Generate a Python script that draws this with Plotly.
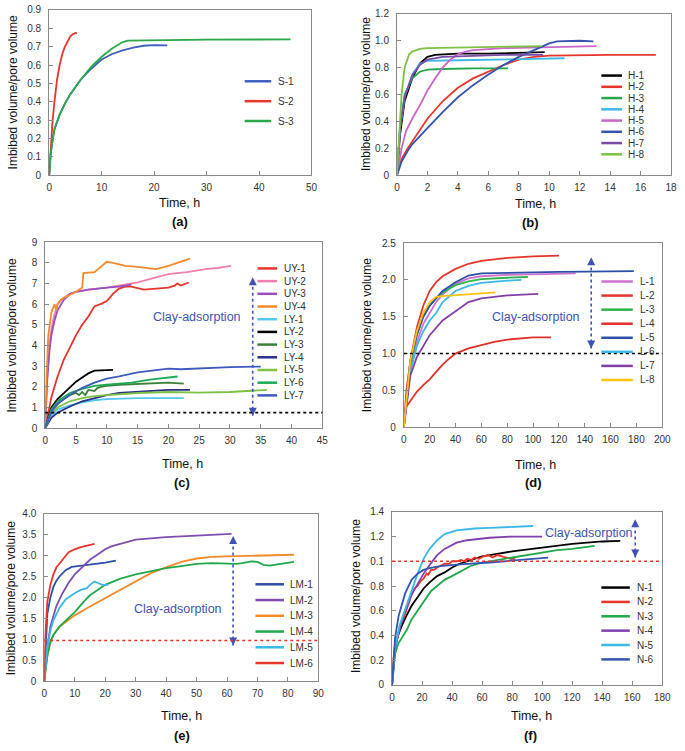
import plotly.graph_objects as go

W, H = 685, 751

# ---------------- (a) ----------------
a_names = ["S-1", "S-2", "S-3"]
a_colors = ["#3F5FBF", "#E8352B", "#2BA84A"]
S1_t = [0, 0.3, 0.7, 1, 2, 3, 4, 5, 6, 8, 10, 12, 14, 16, 18, 20, 22.5]
S1_v = [0, 0.12, 0.2, 0.25, 0.33, 0.39, 0.44, 0.48, 0.52, 0.58, 0.63, 0.66, 0.68, 0.695, 0.705, 0.708, 0.707]
S2_t = [0, 0.3, 0.6, 1, 1.5, 2, 2.5, 3, 3.5, 4, 4.5, 5, 5.3]
S2_v = [0, 0.15, 0.28, 0.4, 0.52, 0.6, 0.66, 0.7, 0.73, 0.755, 0.768, 0.775, 0.772]
S3_t = [0, 0.3, 0.7, 1, 2, 3, 4, 5, 6, 8, 10, 12, 14, 15, 20, 30, 46]
S3_v = [0, 0.12, 0.2, 0.25, 0.33, 0.39, 0.44, 0.48, 0.52, 0.59, 0.645, 0.69, 0.725, 0.733, 0.735, 0.738, 0.74]
a_xticks = [0, 10, 20, 30, 40, 50]
a_yticks = [0, 0.1, 0.2, 0.3, 0.4, 0.5, 0.6, 0.7, 0.8, 0.9]
a_ylabels = ["0", "0.1", "0.2", "0.3", "0.4", "0.5", "0.6", "0.7", "0.8", "0.9"]

# ---------------- (b) ----------------
b_names = ["H-1", "H-2", "H-3", "H-4", "H-5", "H-6", "H-7", "H-8"]
b_colors = ["#000000", "#E8352B", "#22A84A", "#3EB8E8", "#C966C8", "#3553B0", "#7A4CA8", "#7DC243"]
H1_t = [0, 0.2, 0.5, 1, 1.5, 2, 2.5, 3, 4, 6, 8, 9.7]
H1_v = [0, 0.3, 0.55, 0.72, 0.83, 0.88, 0.895, 0.9, 0.905, 0.905, 0.91, 0.915]
H2_t = [0, 0.3, 0.7, 1, 2, 3, 4, 5, 6, 7, 8, 9, 10, 12, 14, 17]
H2_v = [0, 0.12, 0.2, 0.25, 0.42, 0.55, 0.65, 0.72, 0.77, 0.82, 0.86, 0.88, 0.89, 0.895, 0.895, 0.895]
H3_t = [0, 0.2, 0.5, 1, 1.5, 2, 3, 5, 7.3]
H3_v = [0, 0.35, 0.6, 0.72, 0.77, 0.785, 0.79, 0.795, 0.795]
H4_t = [0, 0.2, 0.5, 1, 1.5, 2, 4, 6, 8, 11]
H4_v = [0, 0.35, 0.58, 0.75, 0.83, 0.85, 0.855, 0.86, 0.865, 0.87]
H5_t = [0, 0.3, 0.6, 1, 1.5, 2, 2.5, 3, 3.5, 4, 4.5, 5, 7, 9, 11, 13.1]
H5_v = [0, 0.2, 0.33, 0.42, 0.52, 0.63, 0.72, 0.8, 0.86, 0.9, 0.92, 0.93, 0.945, 0.95, 0.955, 0.96]
H6_t = [0, 0.3, 0.7, 1, 2, 3, 4, 5, 6, 7, 8, 9, 10, 10.5, 12, 12.9]
H6_v = [0, 0.1, 0.18, 0.23, 0.35, 0.47, 0.58, 0.67, 0.75, 0.82, 0.88, 0.93, 0.98, 0.995, 1.0, 0.995]
H7_t = [0, 0.2, 0.5, 1, 1.5, 2, 3, 5, 7, 9.6]
H7_v = [0, 0.35, 0.58, 0.74, 0.82, 0.86, 0.88, 0.89, 0.895, 0.895]
H8_t = [0, 0.15, 0.3, 0.5, 0.8, 1, 1.5, 2, 4, 6, 9.5]
H8_v = [0, 0.35, 0.6, 0.8, 0.9, 0.92, 0.94, 0.945, 0.95, 0.955, 0.96]
b_xticks = [0, 2, 4, 6, 8, 10, 12, 14, 16, 18]
b_yticks = [0, 0.2, 0.4, 0.6, 0.8, 1.0, 1.2]
b_ylabels = ["0", "0.2", "0.4", "0.6", "0.8", "1.0", "1.2"]

# ---------------- (c) ----------------
c_names = ["UY-1", "UY-2", "UY-3", "UY-4", "LY-1", "LY-2", "LY-3", "LY-4", "LY-5", "LY-6", "LY-7"]
c_colors = ["#E8352B", "#F080B0", "#9B4FBF", "#F58A2A", "#55C8EE", "#000000", "#3E7F3A",
            "#2A2F8A", "#7DC243", "#1DAA55", "#3F5BC0"]
UY1_t = [0, 0.5, 1, 2, 3, 4, 5, 6, 7, 8, 9, 10, 11, 12, 13, 14, 16, 18, 20, 21, 21.5, 22, 23.3]
UY1_v = [0, 0.8, 1.5, 2.5, 3.3, 3.9, 4.5, 5.0, 5.4, 5.9, 6.0, 6.15, 6.5, 6.75, 6.85, 6.85, 6.7, 6.75, 6.8, 6.9, 7.0, 6.9, 7.05]
UY2_t = [0, 0.3, 0.7, 1, 1.5, 2, 3, 4, 5, 7, 10, 13, 15, 18, 20, 23, 26, 28, 30.2]
UY2_v = [0, 2.5, 4.0, 4.8, 5.5, 6.0, 6.3, 6.5, 6.6, 6.7, 6.8, 6.95, 7.05, 7.3, 7.45, 7.55, 7.7, 7.75, 7.85]
UY3_t = [0, 0.3, 0.7, 1, 1.5, 2, 3, 4, 5, 7, 10, 12, 14]
UY3_v = [0, 2.2, 3.8, 4.5, 5.2, 5.7, 6.2, 6.5, 6.6, 6.7, 6.8, 6.85, 6.95]
UY4_t = [0, 0.2, 0.5, 1, 1.5, 1.8, 2, 2.5, 3, 4, 5, 6, 6.2, 8, 9, 10, 11, 13, 15, 18, 20, 23.5]
UY4_v = [0, 2.5, 4.5, 5.6, 6.0, 5.7, 6.0, 6.2, 6.3, 6.45, 6.6, 6.8, 7.5, 7.55, 7.8, 8.05, 8.0, 7.85, 7.8, 7.7, 7.85, 8.2]
LY1_t = [0, 1, 2, 4, 6, 8, 10, 15, 20, 22.5]
LY1_v = [0, 0.6, 0.9, 1.1, 1.25, 1.35, 1.4, 1.45, 1.45, 1.45]
LY2_t = [0, 1, 2, 3, 4, 5, 6, 7, 8, 9, 11]
LY2_v = [0, 1.0, 1.4, 1.7, 2.0, 2.25, 2.45, 2.65, 2.78, 2.8, 2.82]
LY3_t = [0, 1, 2, 3, 4, 5, 5.5, 6, 6.5, 7, 8, 8.5, 9, 10, 12, 15, 18, 20, 22.5]
LY3_v = [0, 0.8, 1.15, 1.4, 1.6, 1.7, 1.6, 1.75, 1.6, 1.85, 1.8, 1.95, 2.0, 2.05, 2.1, 2.15, 2.2, 2.2, 2.15]
LY4_t = [0, 1, 2, 4, 6, 8, 10, 12, 15, 18, 20, 23.5]
LY4_v = [0, 0.5, 0.75, 1.05, 1.3, 1.45, 1.6, 1.7, 1.75, 1.8, 1.85, 1.85]
LY5_t = [0, 1, 2, 4, 6, 8, 10, 15, 20, 25, 30, 36]
LY5_v = [0, 0.7, 1.0, 1.3, 1.45, 1.55, 1.6, 1.7, 1.75, 1.72, 1.75, 1.85]
LY6_t = [0, 1, 2, 4, 6, 8, 10, 14, 17, 20, 21.5]
LY6_v = [0, 0.9, 1.3, 1.7, 1.9, 2.05, 2.1, 2.2, 2.35, 2.45, 2.5]
LY7_t = [0, 1, 2, 4, 6, 8, 10, 12, 15, 18, 20, 22, 25, 30, 35]
LY7_v = [0, 0.8, 1.2, 1.6, 1.95, 2.2, 2.4, 2.5, 2.7, 2.82, 2.88, 2.85, 2.9, 2.95, 2.98]
c_xticks = [0, 5, 10, 15, 20, 25, 30, 35, 40, 45]
c_yticks = [0, 1, 2, 3, 4, 5, 6, 7, 8, 9]
c_ylabels = ["0", "1", "2", "3", "4", "5", "6", "7", "8", "9"]

# ---------------- (d) ----------------
d_names = ["L-1", "L-2", "L-3", "L-4", "L-5", "L-6", "L-7", "L-8"]
d_colors = ["#D070D0", "#E8352B", "#2DB34A", "#E0302A", "#2E4FA8", "#3BB8E8", "#8040A8", "#FFC20E"]
L1_t = [0, 5, 10, 15, 20, 25, 30, 40, 50, 60, 80, 100, 133]
L1_v = [0, 0.8, 1.15, 1.4, 1.55, 1.7, 1.8, 1.95, 2.02, 2.05, 2.07, 2.08, 2.09]
L2_t = [0, 2, 5, 10, 15, 20, 25, 30, 40, 50, 60, 80, 100, 120]
L2_v = [0, 0.5, 0.9, 1.35, 1.65, 1.85, 1.97, 2.05, 2.15, 2.22, 2.26, 2.3, 2.32, 2.33]
L3_t = [0, 5, 10, 15, 20, 25, 30, 40, 50, 60, 80, 96]
L3_v = [0, 0.85, 1.25, 1.5, 1.65, 1.75, 1.83, 1.93, 1.98, 2.01, 2.03, 2.04]
L4_t = [0, 1, 2, 5, 10, 15, 20, 25, 30, 35, 40, 50, 60, 70, 80, 90, 100, 114]
L4_v = [0, 0.2, 0.28, 0.35, 0.48, 0.57, 0.65, 0.75, 0.85, 0.93, 1.0, 1.07, 1.12, 1.16, 1.19, 1.21, 1.22, 1.22]
L5_t = [0, 5, 10, 15, 20, 25, 30, 40, 50, 60, 80, 120, 178]
L5_v = [0, 0.9, 1.25, 1.5, 1.65, 1.75, 1.85, 1.97, 2.06, 2.09, 2.1, 2.11, 2.12]
L6_t = [0, 5, 10, 15, 20, 25, 30, 40, 50, 60, 80, 91]
L6_v = [0, 0.75, 1.1, 1.3, 1.45, 1.55, 1.7, 1.85, 1.92, 1.96, 1.99, 2.0]
L7_t = [0, 5, 10, 15, 20, 30, 40, 50, 60, 80, 104]
L7_v = [0, 0.7, 0.95, 1.1, 1.25, 1.45, 1.58, 1.7, 1.75, 1.79, 1.81]
L8_t = [0, 3, 5, 10, 15, 20, 25, 30, 40, 50, 60, 71]
L8_v = [0, 0.5, 0.9, 1.3, 1.55, 1.7, 1.77, 1.78, 1.79, 1.8, 1.81, 1.83]
d_xticks = [0, 20, 40, 60, 80, 100, 120, 140, 160, 180, 200]
d_yticks = [0, 0.5, 1.0, 1.5, 2.0, 2.5]
d_ylabels = ["0", "0.5", "1.0", "1.5", "2.0", "2.5"]

# ---------------- (e) ----------------
e_names = ["LM-1", "LM-2", "LM-3", "LM-4", "LM-5", "LM-6"]
e_colors = ["#2E4FA8", "#7E4FB0", "#F58A2A", "#22A84A", "#3BB8E8", "#E8352B"]
LM1_t = [0, 0.5, 1, 2, 3, 4, 5, 7, 9, 11, 15, 20, 23.5]
LM1_v = [0, 1.0, 1.6, 2.0, 2.25, 2.4, 2.5, 2.65, 2.73, 2.75, 2.78, 2.83, 2.88]
LM2_t = [0, 1, 2, 4, 6, 8, 10, 12, 15, 18, 20, 22, 25, 30, 40, 50, 61.5]
LM2_v = [0, 0.8, 1.3, 1.8, 2.1, 2.35, 2.55, 2.7, 2.9, 3.05, 3.15, 3.22, 3.28, 3.38, 3.44, 3.48, 3.52]
LM3_t = [0, 1, 2, 3, 5, 8, 10, 15, 20, 25, 30, 35, 40, 45, 50, 55, 60, 70, 82]
LM3_v = [0, 0.6, 0.9, 1.1, 1.3, 1.47, 1.57, 1.78, 1.98, 2.18, 2.4, 2.58, 2.72, 2.85, 2.93, 2.97, 2.98, 3.0, 3.02]
LM4_t = [0, 1, 2, 3, 5, 8, 10, 13, 15, 20, 25, 30, 35, 40, 45, 50, 55, 60, 63, 65, 68, 70, 72, 74, 78, 82]
LM4_v = [0, 0.6, 0.95, 1.1, 1.3, 1.5, 1.65, 1.9, 2.05, 2.3, 2.45, 2.55, 2.63, 2.7, 2.75, 2.8, 2.82, 2.8, 2.8, 2.82, 2.86, 2.85, 2.78, 2.76, 2.8, 2.85]
LM5_t = [0, 1, 2, 3, 5, 7, 10, 12, 14, 15, 16.5, 18, 19, 21]
LM5_v = [0, 0.8, 1.2, 1.45, 1.75, 1.95, 2.1, 2.18, 2.22, 2.3, 2.38, 2.32, 2.3, 2.3]
LM6_t = [0, 0.3, 1, 2, 3, 4, 6, 8, 10, 12, 16.5]
LM6_v = [0, 1.0, 1.9, 2.3, 2.55, 2.72, 2.9, 3.08, 3.15, 3.2, 3.28]
e_xticks = [0, 10, 20, 30, 40, 50, 60, 70, 80, 90]
e_yticks = [0, 0.5, 1.0, 1.5, 2.0, 2.5, 3.0, 3.5, 4.0]
e_ylabels = ["0", "0.5", "1.0", "1.5", "2.0", "2.5", "3.0", "3.5", "4.0"]

# ---------------- (f) ----------------
f_names = ["N-1", "N-2", "N-3", "N-4", "N-5", "N-6"]
f_colors = ["#000000", "#E8352B", "#22A84A", "#8040B0", "#3BB8E8", "#3553B0"]
N1_t = [0, 1, 2, 4, 6.5, 10, 13, 17, 21, 25, 30, 35, 40, 45, 50, 60, 70, 80, 100, 120, 140, 152]
N1_v = [0, 0.2, 0.3, 0.4, 0.48, 0.57, 0.64, 0.71, 0.78, 0.83, 0.88, 0.91, 0.95, 0.98, 1.0, 1.04, 1.06, 1.08, 1.11, 1.14, 1.16, 1.165]
N2_t = [0, 1, 2, 4, 6, 8, 10, 13, 15, 17, 19, 21, 23, 24, 26, 28, 30, 33, 35, 38, 40, 43, 46, 48, 50, 53, 55, 58, 61, 64, 67, 70, 73, 76, 79, 82]
N2_v = [0, 0.22, 0.32, 0.42, 0.5, 0.55, 0.62, 0.73, 0.78, 0.8, 0.84, 0.86, 0.9, 0.89, 0.93, 0.93, 0.95, 0.97, 0.98, 0.98, 1.0, 1.0, 1.01, 1.0, 1.02, 1.01, 1.03, 1.02, 1.04, 1.05, 1.03, 1.05, 1.04, 1.03, 1.02, 1.02]
N3_t = [0, 2, 4, 6.5, 10, 13, 17, 21, 26, 30, 35, 43, 52, 60, 70, 80, 97, 110, 120, 135]
N3_v = [0, 0.25, 0.33, 0.38, 0.45, 0.53, 0.6, 0.67, 0.76, 0.8, 0.85, 0.9, 0.96, 0.99, 1.01, 1.03, 1.06, 1.09, 1.1, 1.125]
N4_t = [0, 2, 5, 8, 13, 17, 21, 25, 30, 35, 43, 50, 65, 80, 100]
N4_v = [0, 0.3, 0.45, 0.58, 0.73, 0.82, 0.9, 0.97, 1.05, 1.1, 1.15, 1.17, 1.19, 1.2, 1.2]
N5_t = [0, 2, 5, 9, 13, 17, 21, 25, 30, 35, 43, 55, 65, 80, 94]
N5_v = [0, 0.3, 0.48, 0.62, 0.77, 0.9, 1.02, 1.1, 1.17, 1.22, 1.25, 1.265, 1.27, 1.28, 1.285]
N6_t = [0, 1, 2, 4.4, 8.7, 13, 17, 21, 25, 32, 45, 65, 85, 104]
N6_v = [0, 0.25, 0.38, 0.56, 0.74, 0.85, 0.9, 0.93, 0.945, 0.96, 0.975, 0.99, 1.01, 1.03]
f_xticks = [0, 20, 40, 60, 80, 100, 120, 140, 160, 180]
f_yticks = [0, 0.2, 0.4, 0.6, 0.8, 1.0, 1.2, 1.4]
f_ylabels = ["0", "0.2", "0.4", "0.6", "0.8", "0.1", "1.2", "1.4"]

# reference lines, arrows and notes (data units)
c_ref, d_ref, e_ref, f_ref = 0.75, 1.0, 0.97, 1.0
c_arrow = (33.7, 0.6, 7.3)
d_arrow = (145, 1.07, 2.31)
e_arrow = (62, 0.85, 3.47)
f_arrow = (162, 1.03, 1.34)
c_note = (24.6, 5.4)
d_note = (102, 1.5)
e_note = (44, 1.72)
f_note = (131.5, 1.23)

# ---------------- layout geometry (pixels) ----------------
panels = [
    dict(key="a", ax="", box=(47, 314, 4, 172), xr=50, yr=0.9,
         xt=a_xticks, yt=a_yticks, yl=a_ylabels, names=a_names, colors=a_colors,
         series=[(S1_t, S1_v), (S2_t, S2_v), (S3_t, S3_v)],
         leg=(246, 273, 278, 76.5, 20.2), xtitle=(180, 200), ytitle=(10, 88), lab=(180, 219)),
    dict(key="b", ax="2", box=(401, 680, 8, 172), xr=18, yr=1.2,
         xt=b_xticks, yt=b_yticks, yl=b_ylabels, names=b_names, colors=b_colors,
         series=[(H1_t, H1_v), (H2_t, H2_v), (H3_t, H3_v), (H4_t, H4_v),
                 (H5_t, H5_v), (H6_t, H6_v), (H7_t, H7_v), (H8_t, H8_v)],
         leg=(609, 630, 634, 70.7, 11.43), xtitle=(542, 201), ytitle=(369, 90), lab=(537, 220)),
    dict(key="c", ax="3", box=(43, 325, 240, 429), xr=45, yr=9,
         xt=c_xticks, yt=c_yticks, yl=c_ylabels, names=c_names, colors=c_colors,
         series=[(UY1_t, UY1_v), (UY2_t, UY2_v), (UY3_t, UY3_v), (UY4_t, UY4_v),
                 (LY1_t, LY1_v), (LY2_t, LY2_v), (LY3_t, LY3_v), (LY4_t, LY4_v),
                 (LY5_t, LY5_v), (LY6_t, LY6_v), (LY7_t, LY7_v)],
         leg=(259, 279, 284, 266.7, 12.9), xtitle=(183, 465), ytitle=(9, 335), lab=(182, 484),
         ref=c_ref, refc="#000000", arrow=c_arrow, note=c_note),
    dict(key="d", ax="4", box=(408, 671, 241, 428), xr=200, yr=2.5,
         xt=d_xticks, yt=d_yticks, yl=d_ylabels, names=d_names, colors=d_colors,
         series=[(L1_t, L1_v), (L2_t, L2_v), (L3_t, L3_v), (L4_t, L4_v),
                 (L5_t, L5_v), (L6_t, L6_v), (L7_t, L7_v), (L8_t, L8_v)],
         leg=(609, 641, 646, 280, 14.29), xtitle=(542, 466), ytitle=(370, 335), lab=(540, 484),
         ref=d_ref, refc="#000000", arrow=d_arrow, note=d_note),
    dict(key="e", ax="5", box=(42, 321, 516, 686), xr=90, yr=4,
         xt=e_xticks, yt=e_yticks, yl=e_ylabels, names=e_names, colors=e_colors,
         series=[(LM1_t, LM1_v), (LM2_t, LM2_v), (LM3_t, LM3_v), (LM4_t, LM4_v),
                 (LM5_t, LM5_v), (LM6_t, LM6_v)],
         leg=(257, 286, 290, 587.7, 16.0), xtitle=(182, 722), ytitle=(9, 602), lab=(182, 741),
         ref=e_ref, refc="#E8352B", arrow=e_arrow, note=e_note),
    dict(key="f", ax="6", box=(396, 671, 514, 690), xr=180, yr=1.4,
         xt=f_xticks, yt=f_yticks, yl=f_ylabels, names=f_names, colors=f_colors,
         series=[(N1_t, N1_v), (N2_t, N2_v), (N3_t, N3_v), (N4_t, N4_v),
                 (N5_t, N5_v), (N6_t, N6_v)],
         leg=(609, 638, 643, 591, 14.6), xtitle=(538, 722), ytitle=(360, 600), lab=(537, 741),
         ref=f_ref, refc="#E8352B", arrow=f_arrow, note=f_note),
]

FONT = "Liberation Sans, Arial, sans-serif"
AXC = "#8a8a8a"
BLUE = "#4152B5"

def px(x):
    return x / W

def py(y):
    return 1 - y / H

fig = go.Figure()
shapes, annots = [], []
layout = {}

for p in panels:
    ax = p["ax"]
    x0, x1, y0, y1 = p["box"]
    xa = "xaxis" + ax
    ya = "yaxis" + ax
    xref = "x" + ax
    yref = "y" + ax
    common = dict(showgrid=False, zeroline=False, showline=True, linecolor=AXC, linewidth=1,
                  mirror=True, ticks="inside", ticklen=4, tickcolor=AXC, tickwidth=1,
                  tickfont=dict(family=FONT, size=10, color="#333333"), tickmode="array")
    layout[xa] = dict(common, domain=[px(x0), px(x1)], range=[0, p["xr"]], anchor=yref,
                      tickvals=p["xt"], ticktext=[str(v) for v in p["xt"]], ticklabelstandoff=3)
    layout[ya] = dict(common, domain=[py(y1), py(y0)], range=[0, p["yr"]], anchor=xref,
                      tickvals=p["yt"], ticktext=p["yl"], ticklabelstandoff=5)

    for name, col, (t, v) in zip(p["names"], p["colors"], p["series"]):
        fig.add_trace(go.Scatter(x=t, y=v, mode="lines", name=name, xaxis=xref, yaxis=yref,
                                 line=dict(color=col, width=1.8), showlegend=False,
                                 hoverinfo="skip"))

    if "ref" in p:
        shapes.append(dict(type="line", xref=xref + " domain", yref=yref, x0=0, x1=1,
                           y0=p["ref"], y1=p["ref"],
                           line=dict(color=p["refc"], width=1.6, dash="dot")))
        axx, ay0, ay1 = p["arrow"]
        fig.add_trace(go.Scatter(x=[axx, axx], y=[ay0, ay1], mode="lines+markers",
                                 xaxis=xref, yaxis=yref, showlegend=False, hoverinfo="skip",
                                 line=dict(color=BLUE, width=1.6, dash="dot"),
                                 marker=dict(symbol=["arrow-down", "arrow-up"], size=8,
                                             color=BLUE)))
        nx, ny = p["note"]
        annots.append(dict(x=nx, y=ny, xref=xref, yref=yref, text="Clay-adsorption",
                           showarrow=False, font=dict(family=FONT, size=12.5, color=BLUE)))

    # legend drawn as samples + labels
    lx0, lx1, tx, ly, dy = p["leg"]
    for i, (name, col) in enumerate(zip(p["names"], p["colors"])):
        yy = ly + i * dy
        shapes.append(dict(type="line", xref="paper", yref="paper", x0=px(lx0), x1=px(lx1),
                           y0=py(yy), y1=py(yy), line=dict(color=col, width=2.5)))
        annots.append(dict(x=px(tx), y=py(yy), xref="paper", yref="paper", text=name,
                           showarrow=False, xanchor="left", yanchor="middle",
                           font=dict(family=FONT, size=10, color="#333333")))

    xt_x, xt_y = p["xtitle"]
    annots.append(dict(x=px(xt_x), y=py(xt_y), xref="paper", yref="paper", text="Time, h",
                       showarrow=False, xanchor="center", yanchor="middle",
                       font=dict(family=FONT, size=12.5, color="#111111")))
    yt_x, yt_y = p["ytitle"]
    annots.append(dict(x=px(yt_x), y=py(yt_y), xref="paper", yref="paper",
                       text="Imbibed volume/pore volume", textangle=-90,
                       showarrow=False, xanchor="center", yanchor="middle",
                       font=dict(family=FONT, size=12, color="#111111")))
    lb_x, lb_y = p["lab"]
    annots.append(dict(x=px(lb_x), y=py(lb_y), xref="paper", yref="paper",
                       text="<b>(" + p["key"] + ")</b>",
                       showarrow=False, xanchor="center", yanchor="middle",
                       font=dict(family=FONT, size=13, color="#111111")))

fig.update_layout(width=W, height=H, margin=dict(l=0, r=0, t=0, b=0),
                  paper_bgcolor="white", plot_bgcolor="white", showlegend=False,
                  hovermode=False, shapes=shapes, annotations=annots, **layout)

fig.write_html("out.html", config={"displayModeBar": False, "staticPlot": True},
               post_script="document.body.style.margin='0px';document.body.style.overflow='hidden';")
